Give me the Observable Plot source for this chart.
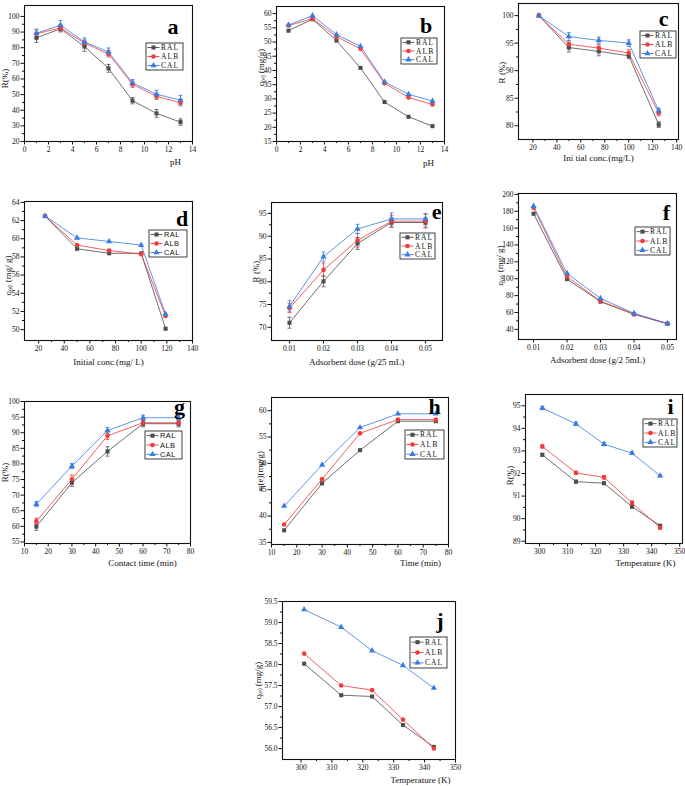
<!DOCTYPE html>
<html><head><meta charset="utf-8">
<script src="https://cdn.jsdelivr.net/npm/d3@7"></script>
<script src="https://cdn.jsdelivr.net/npm/@observablehq/plot@0.6"></script>
<style>
body{margin:0;background:#fff;}
#wrap{position:relative;width:685px;height:786px;overflow:hidden;background:#fff;}
#wrap svg{position:absolute;overflow:visible;background:transparent;}
</style></head><body><div id="wrap"></div>
<script>
const series = ["RAL","ALB","CAL"];
const colors = ["#4d4d4d","#f23b3b","#3a7ce0"];
const symbols = ["square","circle","triangle"];

// (a) pH vs R(%)
const pH = [1,3,5,7,9,11,13];
const aRAL = [86.3,92.1,80.7,66.8,46.1,38.0,32.4];
const aALB = [88.9,92.7,82.9,76.0,56.6,48.9,44.8];
const aCAL = [89.3,94.4,83.7,77.3,57.6,50.2,46.5];
const aErrRAL = [3,2,3,2.5,2,2.5,2];
const aErrALB = [2.5,2,2,2,2,2,2];
const aErrCAL = [2.5,3,2.5,2.5,2,2.5,3];
// (b) pH vs qe
const bRAL = [54.0,58.0,50.5,40.9,28.9,23.7,20.4];
const bALB = [55.8,58.2,51.9,47.6,35.5,30.5,28.0];
const bCAL = [56.0,59.3,52.6,48.5,36.0,31.6,29.2];
// (c) initial conc vs R
const conc = [25,50,75,100,125];
const cRAL = [100,94.2,93.5,92.7,80.2];
const cALB = [100,94.8,94.1,93.2,82.3];
const cCAL = [100,96.2,95.5,95.0,82.7];
const cErrRAL = [0,0.8,0.8,0.5,0.5];
const cErrALB = [0,0.6,0.6,0.6,0.5];
const cErrCAL = [0,0.7,0.6,0.6,0.5];
// (d) initial conc vs qe (last point drawn near 119 on the axis)
const concD = [25,50,75,100,119];
const dRAL = [62.5,58.9,58.4,58.4,50.1];
const dALB = [62.5,59.3,58.7,58.3,51.5];
const dCAL = [62.5,60.1,59.7,59.3,51.7];
// (e) dose vs R
const dose = [0.01,0.02,0.03,0.04,0.05];
const eRAL = [71.0,80.1,88.4,93.0,93.0];
const eALB = [74.2,82.6,89.1,93.3,93.3];
const eCAL = [74.6,85.5,91.6,93.8,93.8];
const eErrRAL = [1.2,1.2,1.3,1.0,1.0];
const eErrALB = [1.0,1.5,1.5,1.3,1.5];
const eErrCAL = [1.2,1.0,1.0,1.3,1.2];
// (f) dose vs qe
const fRAL = [177,99.6,72.8,57.8,46.7];
const fALB = [184,102.4,73.6,58.2,46.7];
const fCAL = [186,106.4,76.7,59,47];
// (g) time vs R
const time = [15,30,45,60,75];
const gRAL = [59.9,74.0,84.0,92.9,92.9];
const gALB = [61.6,75.1,89.0,93.2,93.2];
const gCAL = [67.1,79.3,90.7,94.8,94.8];
const gErrRAL = [1.2,1.2,1.5,1.0,1.0];
const gErrALB = [1.0,1.3,1.2,1.0,1.0];
const gErrCAL = [0.8,0.8,1.0,0.8,0.8];
// (h) time vs qe
const hRAL = [37.3,46.2,52.5,58.0,58.0];
const hALB = [38.4,47.0,55.7,58.3,58.3];
const hCAL = [41.9,49.7,56.8,59.4,59.4];
// (i) temperature vs R
const temp = [301,313,323,333,343];
const iRAL = [92.83,91.64,91.57,90.53,89.69];
const iALB = [93.2,92.03,91.83,90.7,89.6];
const iCAL = [94.9,94.2,93.3,92.9,91.9];
const iErrRAL = [0.06,0.06,0.06,0.06,0.05];
const iErrALB = [0.07,0.07,0.08,0.08,0.06];
const iErrCAL = [0.07,0.07,0.07,0.06,0.05];
// (j) temperature vs qe
const jRAL = [58.02,57.27,57.24,56.56,56.04];
const jALB = [58.26,57.5,57.39,56.69,56.0];
const jCAL = [59.31,58.89,58.33,57.98,57.44];

// tick labels
const tick0to14 = [0,2,4,6,8,10,12,14];
const tick20to140 = [20,40,60,80,100,120,140];
const tick10to80 = [10,20,30,40,50,60,70,80];
const tick300to350 = [300,310,320,330,340,350];

const SERIF = "'Liberation Serif','Times New Roman',serif";
const SANS = "'Liberation Sans',Arial,sans-serif";
const wrap = document.getElementById("wrap");
const range = (a,b,s)=>d3.range(a,b+s/2,s);
const mid = a=>a.slice(1).map((v,i)=>(v+a[i])/2);
const cap = {draw(ctx,size){const w=Math.sqrt(size/Math.PI); ctx.moveTo(-w,0); ctx.lineTo(w,0);}};

function panel(c){
  const mL=45,mR=20,mT=15,mB=45;
  const W=c.r-c.l, H=c.b-c.t;
  const rows = c.x.flatMap((x,i)=>series.map((s,k)=>({x,y:c.ys[k][i],s,e:c.es?c.es[k][i]:0})));
  const eb = rows.filter(d=>d.e>0);
  const at = (px,py)=>({frameAnchor:"top-left",dx:px-c.l,dy:py-c.t});
  const tf = c.tf||7.5;
  const marks = [
    Plot.axisY({ticks:c.yt,tickSize:3.5,tickPadding:1.5,tickFormat:c.yf||(d=>String(d)),label:null,fontSize:tf}),
    Plot.axisY({ticks:mid(c.yt),tickSize:2,tickFormat:()=>"",label:null}),
    Plot.axisX({ticks:c.xt,tickSize:3.5,tickPadding:1.5,tickFormat:c.xf||(d=>String(d)),label:null,fontSize:tf}),
    Plot.axisX({ticks:c.xm||mid(c.xt),tickSize:2,tickFormat:()=>"",label:null}),
    Plot.line(rows,{x:"x",y:"y",z:"s",stroke:"s",strokeWidth:0.9,strokeOpacity:0.9}),
    Plot.ruleX(eb,{x:"x",y1:d=>d.y-d.e,y2:d=>d.y+d.e,stroke:"s",strokeWidth:0.8}),
    Plot.dot(eb,{x:"x",y:d=>d.y+d.e,symbol:cap,r:2,fill:"none",stroke:"s",strokeWidth:0.8}),
    Plot.dot(eb,{x:"x",y:d=>d.y-d.e,symbol:cap,r:2,fill:"none",stroke:"s",strokeWidth:0.8}),
    Plot.dot(rows,{x:"x",y:"y",symbol:"s",fill:"s",r:2.3}),
    Plot.frame({stroke:"#111",strokeWidth:1.1}),
    Plot.text([c.letter],{...at(c.lp[0],c.lp[1]),text:d=>d,fontSize:22,fontWeight:"bold",textAnchor:"middle",lineAnchor:"bottom",fontFamily:SERIF,fill:"#000"}),
    Plot.text([c.xl],{...at(c.xp[0],c.xp[1]),text:d=>d,fontSize:9,textAnchor:"middle",lineAnchor:"middle",fill:"#111",letterSpacing:c.xls??1}),
    Plot.text([c.yl],{...at(c.yp[0],c.yp[1]),text:d=>d,fontSize:9,rotate:-90,textAnchor:"middle",lineAnchor:"middle",fill:"#111",letterSpacing:0.6})
  ];
  const svg = Plot.plot({
    width:W+mL+mR,height:H+mT+mB,
    marginLeft:mL,marginRight:mR,marginTop:mT,marginBottom:mB,
    x:{type:"linear",domain:c.xd},
    y:{type:"linear",domain:c.yd},
    color:{domain:series,range:colors},
    symbol:{domain:series,range:symbols},
    style:{fontFamily:SERIF,fontSize:"7.5px",color:"#111",background:"transparent",overflow:"visible"},
    marks
  });
  svg.style.left=(c.l-mL)+"px";
  svg.style.top=(c.t-mT)+"px";
  // legend box
  const g = d3.select(svg).append("g").attr("text-anchor","start");
  const X=c.lg[0]-c.l+mL, Y=c.lg[1]-c.t+mT, w=c.lg[2], h=c.lg[3];
  g.append("rect").attr("x",X).attr("y",Y).attr("width",w).attr("height",h)
    .attr("fill","#fff").attr("stroke","#111").attr("stroke-width",0.8);
  const types=[d3.symbolSquare,d3.symbolCircle,d3.symbolTriangle];
  series.forEach((s,k)=>{
    const yy=Y+h/6+k*h/3;
    g.append("line").attr("x1",X+1.5).attr("x2",X+13.5).attr("y1",yy).attr("y2",yy)
      .attr("stroke",colors[k]).attr("stroke-width",0.9);
    g.append("path").attr("d",d3.symbol(types[k],Math.PI*2.3*2.3)())
      .attr("transform",`translate(${X+7.5},${yy})`).attr("fill",colors[k]);
    g.append("text").attr("x",X+15).attr("y",yy).attr("dy","0.35em")
      .attr("text-anchor","start")
      .attr("font-size",c.lf||7.5).attr("letter-spacing",c.lfam?0.4:1.1)
      .attr("font-family",c.lfam||SERIF).attr("fill","#111").text(s);
  });
  wrap.appendChild(svg);
}

panel({l:24,t:5,r:192,b:141,xd:[0,14],yd:[20,107],x:pH,ys:[aRAL,aALB,aCAL],es:[aErrRAL,aErrALB,aErrCAL],
  xt:tick0to14,yt:range(20,100,10),letter:"a",lp:[172.5,33],xl:"pH",xp:[175,162],yl:"R(%)",yp:[5,78],lg:[146,43,37,27]});
panel({l:276,t:6,r:444,b:141,xd:[0,14],yd:[15,62.5],x:pH,ys:[bRAL,bALB,bCAL],
  xt:tick0to14,yt:range(15,60,5),letter:"b",lp:[425.5,32],xl:"pH",xp:[428,163],yl:"q₍ₑ₎ (mg/g)",yp:[261,67],lg:[401,38,36,26]});
panel({l:518,t:3,r:678,b:139,xd:[8,141.5],yd:[77.5,102.2],x:conc,ys:[cRAL,cALB,cCAL],es:[cErrRAL,cErrALB,cErrCAL],
  xt:tick20to140,yt:range(80,100,5),letter:"c",lp:[663,25],xl:"Ini tial conc.(mg/L)",xp:[598,158],yl:"R (%)",yp:[502,72],lg:[640,31,36,27]});
panel({l:24,t:201,r:192,b:340,xd:[9,140],yd:[48.8,64.1],x:concD,ys:[dRAL,dALB,dCAL],
  xt:tick20to140,yt:range(50,64,2),letter:"d",lp:[181.5,225],xl:"Initial conc.(mg/ L)",xp:[108,362],yl:"q₍ₑ₎ (mg/ g)",yp:[8,275],lg:[149,230,38,27],lfam:SANS,lf:7.5});
panel({l:271,t:202,r:442,b:340,xd:[0.0047,0.055],yd:[67.1,97.4],x:dose,ys:[eRAL,eALB,eCAL],es:[eErrRAL,eErrALB,eErrCAL],
  xt:dose,xm:[],xf:d3.format(".2f"),yt:range(70,95,5),letter:"e",lp:[436,218],xl:"Adsorbent dose (g/25 mL)",xp:[356,362],yl:"R (%)",yp:[256,271],lg:[400,233,35,26]});
panel({l:518,t:193,r:676,b:339,xd:[0.0055,0.0527],yd:[28,201],x:dose,ys:[fRAL,fALB,fCAL],
  xt:dose,xm:[],xf:d3.format(".2f"),yt:range(40,200,20),letter:"f",lp:[666,219],xl:"Adsorbent dose (g/2 5mL)",xp:[597,360],xls:0.3,yl:"q₍ₑ₎ (mg/ g)",yp:[500,265],lg:[635,227,35,28]});
panel({l:24,t:401,r:190,b:543,xd:[10,80],yd:[54.5,100],x:time,ys:[gRAL,gALB,gCAL],es:[gErrRAL,gErrALB,gErrCAL],
  xt:tick10to80,yt:range(55,100,5),letter:"g",lp:[179,413],xl:"Contact time (min)",xp:[142,563],xls:0.3,yl:"R(%)",yp:[5,472],lg:[145,431,37,28],lfam:SANS});
panel({l:271,t:397,r:448,b:544,xd:[10,80],yd:[34.6,62.5],x:time,ys:[hRAL,hALB,hCAL],
  xt:tick10to80,yt:range(35,60,5),letter:"h",lp:[434,413],xl:"Time (min)",xp:[420,563],yl:"q(e)(mg/g)",yp:[260,470],lg:[405,430,39,29]});
panel({l:525,t:394,r:682,b:543,xd:[295,351],yd:[88.9,95.5],x:temp,ys:[iRAL,iALB,iCAL],es:[iErrRAL,iErrALB,iErrCAL],
  xt:tick300to350,yt:range(89,95,1),letter:"i",lp:[670,413],xl:"Temperature (K)",xp:[645,563],yl:"R(%)",yp:[510,475],lg:[643,419,34,28]});
panel({l:282,t:601,r:455,b:759,xd:[294,350],yd:[55.74,59.5],x:temp,ys:[jRAL,jALB,jCAL],
  xt:tick300to350,yt:range(56,59.5,0.5),yf:d3.format(".1f"),letter:"j",lp:[439.5,627],xl:"Temperature (K)",xp:[420,780],yl:"q₍ₑ₎ (mg/g)",yp:[258,680],lg:[410,637,37,31]});
</script></body></html>
